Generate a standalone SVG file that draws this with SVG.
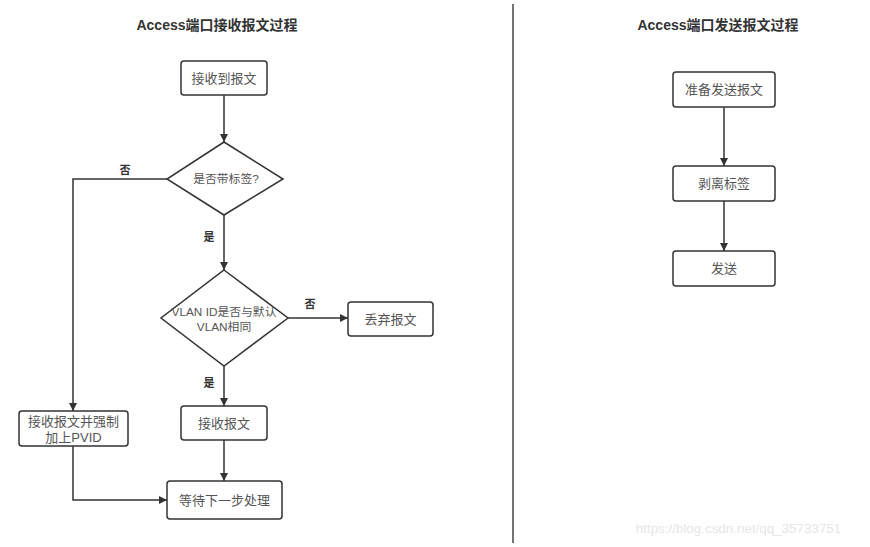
<svg xmlns="http://www.w3.org/2000/svg" width="870" height="547" viewBox="0 0 870 547">
<style>
.box{fill:#fff;stroke:#333;stroke-width:1.5}
.t{font-family:"Liberation Sans","Noto Sans CJK SC",sans-serif;font-size:13px;fill:#555;text-anchor:middle;dominant-baseline:central}
.dt{font-size:11.8px}
.lbl{font-family:"Noto Sans CJK SC",sans-serif;font-size:11px;fill:#333;font-weight:bold;text-anchor:middle;dominant-baseline:central}
.title{font-family:"Liberation Sans","Noto Sans CJK SC",sans-serif;font-size:14px;font-weight:bold;fill:#333;text-anchor:middle;dominant-baseline:central}
.c{fill:none;stroke:#333;stroke-width:1.5}
</style>
<defs>
<marker id="ah" viewBox="0 0 10 10" refX="10" refY="5" markerWidth="8" markerHeight="8" markerUnits="userSpaceOnUse" orient="auto">
<path d="M0,0 L10,5 L0,10 z" fill="#333"/>
</marker>
</defs>
<rect width="870" height="547" fill="#fff"/>
<text class="title" x="217" y="25">Access端口接收报文过程</text>
<text class="title" x="718" y="25">Access端口发送报文过程</text>
<line x1="513" y1="4" x2="513" y2="543" stroke="#444" stroke-width="1.5"/>
<g id="connectors">
<line class="c" x1="224" y1="95" x2="224" y2="142" marker-end="url(#ah)"/>
<polyline class="c" points="167,179 73,179 73,411" marker-end="url(#ah)"/>
<line class="c" x1="224" y1="215" x2="224" y2="270" marker-end="url(#ah)"/>
<line class="c" x1="288" y1="318" x2="348" y2="318" marker-end="url(#ah)"/>
<line class="c" x1="224" y1="366" x2="224" y2="406" marker-end="url(#ah)"/>
<line class="c" x1="224" y1="440" x2="224" y2="481" marker-end="url(#ah)"/>
<polyline class="c" points="73,446 73,500 167,500" marker-end="url(#ah)"/>
<line class="c" x1="724" y1="107" x2="724" y2="166" marker-end="url(#ah)"/>
<line class="c" x1="724" y1="201" x2="724" y2="251" marker-end="url(#ah)"/>
<text class="lbl" x="125" y="169">否</text>
<text class="lbl" x="209" y="236">是</text>
<text class="lbl" x="310" y="303">否</text>
<text class="lbl" x="209" y="382">是</text>
</g>
<g id="n1"><rect class="box" x="181" y="61" width="86" height="34" rx="3"/><text class="t" x="224" y="78">接收到报文</text></g>
<g id="d1"><polygon class="box" points="224,142 283,179 224,215 167,179"/><text class="t dt" x="226" y="179">是否带标签?</text></g>
<g id="d2"><polygon class="box" points="224,270 288,318 224,366 161,318"/><text class="t dt" x="224" y="312">VLAN ID是否与默认</text><text class="t dt" x="224" y="327">VLAN相同</text></g>
<g id="n2"><rect class="box" x="348" y="302" width="85" height="34" rx="3"/><text class="t" x="390.5" y="319">丢弃报文</text></g>
<g id="n3"><rect class="box" x="181" y="406" width="86" height="34" rx="3"/><text class="t" x="224" y="423">接收报文</text></g>
<g id="n4"><rect class="box" x="19" y="411" width="109" height="35" rx="3"/><text class="t" x="73.5" y="421">接收报文并强制</text><text class="t" x="73.5" y="437">加上PVID</text></g>
<g id="n5"><rect class="box" x="167" y="481" width="115" height="38" rx="3"/><text class="t" x="224.5" y="500">等待下一步处理</text></g>
<g id="r1"><rect class="box" x="673" y="72" width="102" height="35" rx="3"/><text class="t" x="724" y="89.5">准备发送报文</text></g>
<g id="r2"><rect class="box" x="673" y="166" width="102" height="35" rx="3"/><text class="t" x="724" y="183.5">剥离标签</text></g>
<g id="r3"><rect class="box" x="673" y="251" width="102" height="35" rx="3"/><text class="t" x="724" y="268.5">发送</text></g>
<text x="738.5" y="528" font-family="Liberation Sans, sans-serif" font-size="13.4" fill="#e6e6e6" text-anchor="middle" dominant-baseline="central">https://blog.csdn.net/qq_35733751</text>
</svg>
